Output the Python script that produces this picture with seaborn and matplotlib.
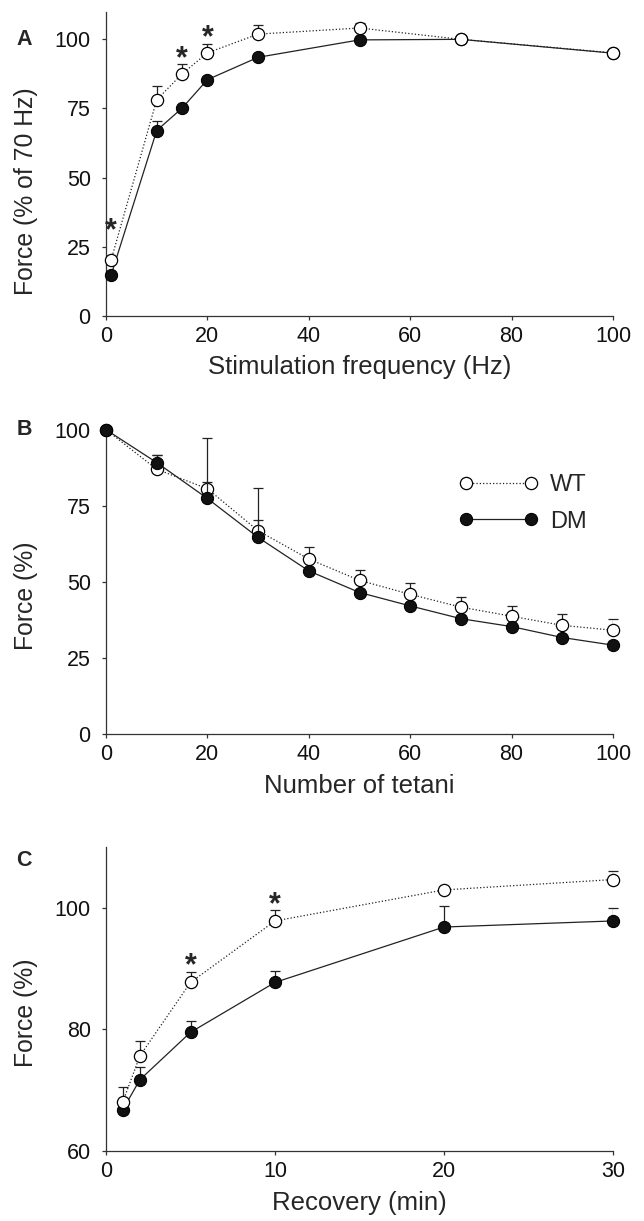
import numpy as np
import pandas as pd
import seaborn as sns
from matplotlib import pyplot as plt

# panel A - force-frequency
freq = [1, 10, 15, 20, 30, 50, 70, 100]
wt_freq = [20.1, 78.1, 87.5, 95.1, 101.9, 104.1, 100.0, 95.1]
wt_freq_err = [0, 5.0, 3.4, 3.2, 3.3, 1.7, 0, 0]
dm_freq = [14.7, 67.0, 75.1, 85.4, 93.5, 99.8, 100.0, 95.0]
dm_freq_err = [0, 3.3, 0, 0, 0, 0, 0, 0]
star_freq_x = [1, 15, 20]
star_freq_y = [30.5, 92.8, 100.3]

# panel B - fatigue
tetani = [0, 10, 20, 30, 40, 50, 60, 70, 80, 90, 100]
wt_fat = [100.0, 87.0, 80.6, 66.8, 57.5, 50.5, 45.9, 41.7, 38.7, 35.7, 34.1]
wt_fat_err = [0, 4.7, 16.8, 14.0, 4.1, 3.4, 3.6, 3.4, 3.5, 3.7, 3.8]
dm_fat = [100.0, 89.2, 77.4, 64.6, 53.6, 46.5, 42.1, 37.9, 35.3, 31.7, 29.2]
dm_fat_err = [0, 2.5, 5.3, 5.7, 0, 0, 0, 0, 0, 0, 0]

# panel C - recovery
recov = [1, 2, 5, 10, 20, 30]
wt_rec = [68.1, 75.6, 87.7, 97.8, 102.9, 104.6]
wt_rec_err = [2.4, 2.4, 1.7, 1.8, 0, 1.4]
dm_rec = [66.8, 71.7, 79.5, 87.7, 96.8, 97.8]
dm_rec_err = [0, 2.1, 1.8, 1.8, 3.4, 2.2]
star_rec_x = [5, 10]
star_rec_y = [90.4, 100.3]

sns.set_style("ticks")
plt.rcParams['font.family'] = ['Liberation Sans', 'DejaVu Sans']
plt.rcParams['axes.linewidth'] = 0.9
plt.rcParams['axes.edgecolor'] = '#333333'
plt.rcParams['xtick.major.width'] = 0.9
plt.rcParams['ytick.major.width'] = 0.9
plt.rcParams['xtick.major.size'] = 3
plt.rcParams['ytick.major.size'] = 3
plt.rcParams['xtick.color'] = '#333333'
plt.rcParams['ytick.color'] = '#333333'
plt.rcParams['xtick.labelcolor'] = '#111111'
plt.rcParams['ytick.labelcolor'] = '#111111'

fig = plt.figure(figsize=(6.44, 12.21), dpi=100)
W, H = 644, 1221
left, right = 106, 613
boxes = [(11.7, 315.7), (429.7, 734.0), (846.7, 1151.0)]
axes = [fig.add_axes([left / W, 1 - b / H, (right - left) / W, (b - t) / H]) for t, b in boxes]

MS = 8.8


def draw(ax, x, wt, wt_err, dm, dm_err, wt_on_top):
    zw, zd = (4, 3) if wt_on_top else (3, 4)
    ax.errorbar(x, wt, yerr=[np.zeros(len(wt)), wt_err], fmt='none', ecolor='#222222',
                elinewidth=0.9, capsize=3.5, capthick=0.9, zorder=zw - 0.5)
    ax.errorbar(x, dm, yerr=[np.zeros(len(dm)), dm_err], fmt='none', ecolor='#222222',
                elinewidth=0.9, capsize=3.5, capthick=0.9, zorder=zd - 0.5)
    df = pd.DataFrame({"x": x, "wt": wt, "dm": dm})
    sns.lineplot(data=df, x="x", y="wt", ax=ax, color='#222222', linestyle=':', linewidth=0.9,
                 marker='o', markersize=MS, markerfacecolor='white', markeredgecolor='black',
                 markeredgewidth=0.9, label='WT', zorder=zw)
    sns.lineplot(data=df, x="x", y="dm", ax=ax, color='#222222', linestyle='-', linewidth=0.9,
                 marker='o', markersize=MS, markerfacecolor='#111111', markeredgecolor='black',
                 label='DM', zorder=zd)


draw(axes[0], freq, wt_freq, wt_freq_err, dm_freq, dm_freq_err, True)
draw(axes[1], tetani, wt_fat, wt_fat_err, dm_fat, dm_fat_err, False)
draw(axes[2], recov, wt_rec, wt_rec_err, dm_rec, dm_rec_err, True)

for sx, sy in zip(star_freq_x, star_freq_y):
    axes[0].text(sx, sy, "*", ha='center', va='center', fontsize=22, fontweight='bold')
for sx, sy in zip(star_rec_x, star_rec_y):
    axes[2].text(sx, sy, "*", ha='center', va='center', fontsize=22, fontweight='bold')

axes[0].set_xlim(0, 100)
axes[0].set_ylim(0, 110)
axes[0].set_xticks([0, 20, 40, 60, 80, 100])
axes[0].set_yticks([0, 25, 50, 75, 100])
axes[0].set_xlabel("Stimulation frequency (Hz)")
axes[0].set_ylabel("Force (% of 70 Hz)")

axes[1].set_xlim(0, 100)
axes[1].set_ylim(0, 100)
axes[1].set_xticks([0, 20, 40, 60, 80, 100])
axes[1].set_yticks([0, 25, 50, 75, 100])
axes[1].set_xlabel("Number of tetani")
axes[1].set_ylabel("Force (%)")

axes[2].set_xlim(0, 30)
axes[2].set_ylim(60, 110)
axes[2].set_xticks([0, 10, 20, 30])
axes[2].set_yticks([60, 80, 100])
axes[2].set_xlabel("Recovery (min)")
axes[2].set_ylabel("Force (%)")

letter_y = {"A": 100 / 110, "B": 1.0, "C": (1151 - 860) / 304.3}
ylabel_y = {"A": 0.411, "B": 0.453, "C": 0.453}
for ax, letter in zip(axes, "ABC"):
    sns.despine(ax=ax)
    ax.tick_params(axis='x', labelsize=15.5, direction='out', pad=4.5)
    ax.tick_params(axis='y', labelsize=15.5, direction='out', pad=8)
    ax.xaxis.label.set_size(18.5)
    ax.yaxis.label.set_size(17.8)
    ax.xaxis.labelpad = 6
    ax.yaxis.set_label_coords((38.5 - left) / (right - left), ylabel_y[letter])
    for sp in ax.spines.values():
        sp.set_clip_on(False)
    for ln in ax.lines:
        ln.set_clip_on(False)
    ax.text((16.5 - left) / (right - left), letter_y[letter], letter,
            transform=ax.transAxes, fontsize=15.5, fontweight='bold', ha='left', va='center')

axes[0].get_legend().remove()
axes[2].get_legend().remove()
h, l = axes[1].get_legend_handles_labels()
axes[1].legend(h, l, loc='center left', bbox_to_anchor=(0.6955, 0.758), frameon=False, numpoints=2,
               handlelength=3.35, fontsize=17, labelspacing=0.61, handletextpad=0.52,
               borderpad=0, borderaxespad=0)

fig.savefig("out.png", dpi=100)
